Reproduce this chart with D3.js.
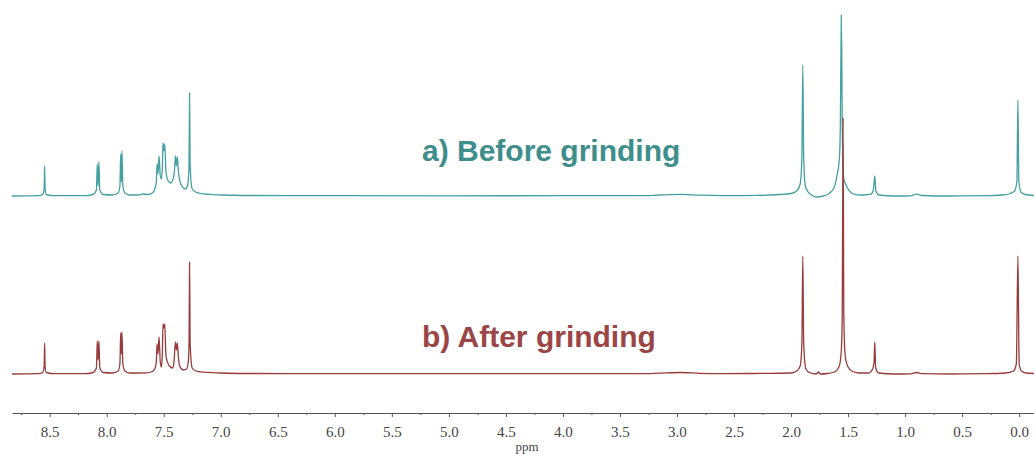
<!DOCTYPE html>
<html lang="en">
<head>
<meta charset="UTF-8">
<title>1H NMR before / after grinding</title>
<style>
    body { margin: 0; background: #fff; }
    svg { display: block; }
    .axis path, .axis line { stroke: #555; }
</style>
</head>
<body>
<script src="https://cdn.jsdelivr.net/npm/d3@7"></script>
<script>

    // chemical shift (ppm) / intensity pairs
    var spectrumA = [
        [8.83, 0], [8.60, 0.3], [8.56, 1.5], [8.548, 8], [8.544, 30], [8.540, 8], [8.53, 1.5], [8.45, 0.3],
        [8.20, 0.3], [8.12, 1.5], [8.09, 6], [8.082, 32], [8.075, 10], [8.068, 34], [8.060, 6], [8.03, 1.5],
        [7.95, 1], [7.90, 3], [7.884, 10], [7.877, 42], [7.871, 14], [7.866, 45], [7.858, 10], [7.84, 3],
        [7.80, 1], [7.72, 1], [7.68, 2], [7.64, 1.5], [7.60, 3], [7.575, 8], [7.565, 14], [7.558, 32],
        [7.550, 22], [7.541, 40], [7.530, 20], [7.520, 17], [7.512, 28], [7.506, 53], [7.499, 45], [7.491, 52],
        [7.480, 24], [7.46, 15], [7.44, 13], [7.42, 16], [7.405, 26], [7.397, 40], [7.389, 30], [7.380, 39],
        [7.372, 26], [7.35, 12], [7.31, 7], [7.29, 11], [7.278, 30], [7.273, 103], [7.268, 30], [7.25, 7],
        [7.22, 4], [7.18, 2.7], [7.10, 1.6], [7.00, 1], [6.80, 0.5], [6.00, 0.4], [5.00, 0.2], [4.00, 0.3],
        [3.30, 0.3], [3.15, 1], [2.97, 1.6], [2.80, 0.8], [2.60, 0.4], [2.30, 0.6], [2.10, 1.5], [2.00, 2.5],
        [1.95, 5], [1.92, 12], [1.905, 38], [1.897, 131], [1.889, 38], [1.875, 10], [1.85, 4], [1.82, 1],
        [1.78, -1], [1.72, 0], [1.68, 1.5], [1.66, 3], [1.62, 9], [1.60, 19], [1.577, 36], [1.568, 70],
        [1.559, 181], [1.550, 60], [1.54, 19], [1.51, 9], [1.47, 3], [1.42, 1.2], [1.36, 1], [1.30, 1.8],
        [1.278, 6], [1.266, 20], [1.256, 5], [1.23, 1], [1.10, 0], [0.95, 0.2], [0.90, 1.8], [0.85, 0.5],
        [0.60, 0], [0.30, 0.3], [0.15, 1], [0.08, 2.5], [0.04, 5], [0.02, 15], [0.011, 96], [0.003, 15],
        [-0.015, 4], [-0.05, 1.5], [-0.13, 0.5]
    ];

    var spectrumB = [
        [8.83, 0], [8.60, 0.3], [8.56, 1.5], [8.548, 8], [8.544, 31], [8.540, 8], [8.53, 1.5], [8.45, 0.3],
        [8.20, 0.3], [8.12, 1.5], [8.09, 6], [8.082, 33], [8.075, 14], [8.068, 33], [8.060, 6], [8.03, 1.5],
        [7.95, 1], [7.90, 3], [7.884, 10], [7.877, 41], [7.871, 20], [7.866, 42], [7.858, 10], [7.84, 3],
        [7.80, 1], [7.65, 1.2], [7.60, 2.5], [7.575, 6], [7.565, 12], [7.558, 30], [7.550, 20], [7.541, 37],
        [7.530, 12], [7.520, 7], [7.512, 20], [7.506, 50], [7.499, 46], [7.491, 50], [7.480, 18], [7.45, 8],
        [7.42, 6], [7.41, 12], [7.397, 32], [7.389, 24], [7.380, 31], [7.372, 18], [7.36, 8], [7.33, 4],
        [7.30, 5], [7.285, 12], [7.278, 30], [7.273, 112], [7.268, 30], [7.25, 6], [7.22, 3], [7.15, 1.8],
        [7.00, 1], [6.80, 0.5], [6.00, 0.4], [5.00, 0.3], [4.00, 0.3], [3.30, 0.3], [3.15, 0.9], [2.97, 1.5],
        [2.80, 0.7], [2.60, 0.4], [2.20, 0.6], [2.00, 1], [1.95, 3], [1.92, 8], [1.905, 30], [1.897, 118],
        [1.889, 30], [1.87, 5], [1.84, 1.5], [1.78, 0], [1.757, 2], [1.745, 0], [1.68, 0.5], [1.62, 2],
        [1.58, 7], [1.56, 22], [1.551, 60], [1.544, 256], [1.537, 55], [1.525, 18], [1.50, 7], [1.46, 2.5],
        [1.40, 1], [1.32, 1], [1.285, 5], [1.272, 12], [1.266, 32], [1.258, 6], [1.23, 1], [1.10, 0],
        [0.95, 0.2], [0.90, 1.5], [0.85, 0.3], [0.60, 0], [0.30, 0.3], [0.12, 1], [0.05, 3], [0.025, 10],
        [0.011, 118], [0.000, 10], [-0.02, 3], [-0.06, 1], [-0.13, 0.5]
    ];

    var majorTicks = [8.5, 8.0, 7.5, 7.0, 6.5, 6.0, 5.5, 5.0, 4.5, 4.0, 3.5, 3.0, 2.5, 2.0, 1.5, 1.0, 0.5, 0.0];
    var minorTicks = [8.75, 8.25, 7.75, 7.25, 6.75, 6.25, 5.75, 5.25, 4.75, 4.25, 3.75, 3.25, 2.75, 2.25, 1.75, 1.25, 0.75, 0.25];
    var ppmRange = [8.83, -0.13];
    var axisTitle = "ppm";
    var labelA = "a) Before grinding";
    var labelB = "b) After grinding";

    var width = 1034,
        height = 457,
        axisY = 413,
        baseA = 196,
        baseB = 374,
        serif = "'Liberation Serif', 'Times New Roman', 'DejaVu Serif', serif";

    var colorA = "#45a0a0",
        colorB = "#963c3c",
        textA = "#3e8e8b",
        textB = "#9b4646";

    var svg = d3.select("body")
        .append("svg")
        .attr("width", width)
        .attr("height", height);

    var x = d3.scaleLinear()
        .domain(ppmRange)
        .range([12, width]);

    // one intensity unit ~ one pixel, each trace on its own baseline
    var yA = d3.scaleLinear().domain([0, 181]).range([baseA, baseA - 181]);
    var yB = d3.scaleLinear().domain([0, 256]).range([baseB, baseB - 256]);

    var lineA = d3.line()
        .x(function (d) { return x(d[0]); })
        .y(function (d) { return yA(d[1]); })
        .curve(d3.curveMonotoneX);

    var lineB = d3.line()
        .x(function (d) { return x(d[0]); })
        .y(function (d) { return yB(d[1]); })
        .curve(d3.curveMonotoneX);

    svg.append("path")
        .datum(spectrumA.slice().reverse())
        .attr("d", lineA)
        .attr("fill", "none")
        .attr("stroke", colorA)
        .attr("stroke-width", 1.3)
        .attr("stroke-linejoin", "round");

    svg.append("path")
        .datum(spectrumB.slice().reverse())
        .attr("d", lineB)
        .attr("fill", "none")
        .attr("stroke", colorB)
        .attr("stroke-width", 1.3)
        .attr("stroke-linejoin", "round");

    svg.append("text")
        .attr("x", 422)
        .attr("y", 161)
        .style("font-family", "'Liberation Sans', Arial, sans-serif")
        .style("font-weight", "bold")
        .style("font-size", "30px")
        .attr("fill", textA)
        .text(labelA);

    svg.append("text")
        .attr("x", 422)
        .attr("y", 347)
        .style("font-family", "'Liberation Sans', Arial, sans-serif")
        .style("font-weight", "bold")
        .style("font-size", "30px")
        .attr("fill", textB)
        .text(labelB);

    // x axis: minor ticks first, then labelled major ticks
    svg.append("g")
        .attr("class", "axis")
        .attr("transform", "translate(0," + axisY + ")")
        .call(d3.axisBottom(x).tickValues(minorTicks).tickSize(2).tickSizeOuter(0).tickFormat(""))
        .select(".domain").remove();

    var xAxis = svg.append("g")
        .attr("class", "axis")
        .attr("transform", "translate(0," + axisY + ")")
        .call(d3.axisBottom(x)
            .tickValues(majorTicks)
            .tickSize(4)
            .tickSizeOuter(0)
            .tickPadding(9)
            .tickFormat(d3.format(".1f")));

    xAxis.attr("font-family", null);
    xAxis.selectAll("text")
        .style("font-family", serif)
        .style("font-size", "15px")
        .attr("fill", "#444");

    svg.append("text")
        .attr("x", 527)
        .attr("y", 451)
        .attr("text-anchor", "middle")
        .style("font-family", serif)
        .style("font-size", "13px")
        .attr("fill", "#444")
        .text(axisTitle);

</script>
</body>
</html>
